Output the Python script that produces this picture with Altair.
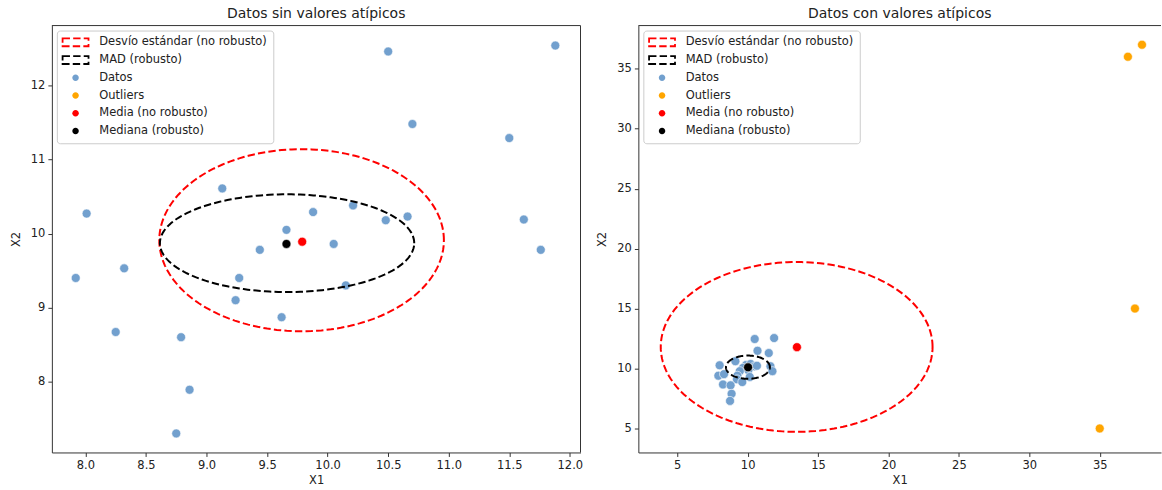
import altair as alt
import pandas as pd
import numpy as np

# ---------------- data ----------------
x1_datos = [10.50, 11.88, 10.70, 11.50, 9.13, 8.01, 9.88, 10.21, 10.48, 10.66,
            11.62, 9.66, 10.05, 9.44, 11.76, 7.92, 8.32, 9.27, 10.15, 9.24,
            9.62, 8.25, 8.79, 8.86, 8.75]
x2_datos = [12.46, 12.54, 11.48, 11.29, 10.61, 10.27, 10.29, 10.38, 10.18, 10.23,
            10.19, 10.05, 9.86, 9.78, 9.78, 9.40, 9.53, 9.40, 9.30, 9.10,
            8.87, 8.67, 8.60, 7.89, 7.30]
x1_outliers = [37.0, 38.0, 37.5, 35.0]
x2_outliers = [36.0, 37.0, 15.0, 5.0]

media_sin = [9.79, 9.89]
mediana_sin = [9.66, 9.86]
media_con = [13.50, 11.78]
mediana_con = [10.03, 10.10]

# ellipses: centre x, centre y, half-width, half-height
elipse_sd_sin = [9.785, 9.91, 1.175, 1.23]
elipse_mad_sin = [9.665, 9.87, 1.05, 0.66]
elipse_sd_con = [13.48, 11.80, 9.65, 7.08]
elipse_mad_con = [10.02, 10.11, 1.56, 0.97]

series = ["Desvío estándar (no robusto)", "MAD (robusto)", "Datos", "Outliers",
          "Media (no robusto)", "Mediana (robusto)"]
series_colors = ["#ff0000", "#000000", "#72a0ce", "#ffa500", "#ff0000", "#000000"]

ticks_x_sin = [8.0, 8.5, 9.0, 9.5, 10.0, 10.5, 11.0, 11.5, 12.0]
ticks_y_sin = [8, 9, 10, 11, 12]
ticks_x_con = [5, 10, 15, 20, 25, 30, 35]
ticks_y_con = [5, 10, 15, 20, 25, 30, 35]

# ---------------- legend symbol paths ----------------
CIRCLE = "M-1,0A1,1,0,1,1,1,0A1,1,0,1,1,-1,0Z"


def dashed_rect_path(hw=13.0, hh=4.0, t=1.8, dash=7.4, gap=3.2, s=3.25):
    edges = [((-hw, -hh), (hw, -hh)), ((hw, -hh), (hw, hh)),
             ((hw, hh), (-hw, hh)), ((-hw, hh), (-hw, -hh))]
    total = 4 * hw + 4 * hh
    dashes = []
    p = 0.0
    while p < total:
        dashes.append((p, min(p + dash, total)))
        p += dash + gap
    parts = []
    start = 0.0
    for (a, b) in edges:
        length = abs(b[0] - a[0]) + abs(b[1] - a[1])
        for d0, d1 in dashes:
            lo, hi = max(d0, start), min(d1, start + length)
            if hi <= lo:
                continue
            f0, f1 = (lo - start) / length, (hi - start) / length
            xa = a[0] + (b[0] - a[0]) * f0
            ya = a[1] + (b[1] - a[1]) * f0
            xb = a[0] + (b[0] - a[0]) * f1
            yb = a[1] + (b[1] - a[1]) * f1
            if ya == yb:
                x0, x1 = sorted([xa, xb])
                y0, y1 = ya - t / 2, ya + t / 2
                x0 -= t / 2 if abs(x0 + hw) < 1e-9 else 0
                x1 += t / 2 if abs(x1 - hw) < 1e-9 else 0
            else:
                y0, y1 = sorted([ya, yb])
                x0, x1 = xa - t / 2, xa + t / 2
            parts.append("M%.3f,%.3fH%.3fV%.3fH%.3fZ" % (x0 / s, y0 / s, x1 / s, y1 / s, x0 / s))
        start += length
    return "".join(parts)


RECT = dashed_rect_path()
series_shapes = [RECT, RECT, CIRCLE, CIRCLE, CIRCLE, CIRCLE]


def ellipse_df(params, name):
    cx, cy, rx, ry = params
    t = np.linspace(0, 2 * np.pi, 181)
    return pd.DataFrame({"x": cx + rx * np.cos(t), "y": cy + ry * np.sin(t),
                         "i": np.arange(len(t)), "serie": name})


def points_df(with_outliers, media, mediana):
    rows = [{"x": a, "y": b, "serie": "Datos"} for a, b in zip(x1_datos, x2_datos)]
    if with_outliers:
        rows += [{"x": a, "y": b, "serie": "Outliers"} for a, b in zip(x1_outliers, x2_outliers)]
    rows.append({"x": media[0], "y": media[1], "serie": "Media (no robusto)"})
    rows.append({"x": mediana[0], "y": mediana[1], "serie": "Mediana (robusto)"})
    return pd.DataFrame(rows)


AX = "#333333"
TXT = "#222222"
FS = 11.5


def panel(title, pts, ells, xdom, ydom, xticks, yticks, xfmt, W, H, right_line):
    color_scale = alt.Scale(domain=series, range=series_colors)
    shape_scale = alt.Scale(domain=series, range=series_shapes)
    legend = alt.Legend(title=None, orient="top-left", offset=5, padding=6,
                        symbolSize=42.25, symbolOffset=7, labelOffset=18,
                        rowPadding=4.8, labelFontSize=FS, labelColor=TXT,
                        fillColor="rgba(255,255,255,0.8)", strokeColor="#cccccc",
                        cornerRadius=3, symbolStrokeWidth=0, labelLimit=400)
    xenc = alt.X("x:Q", title="X1",
                 scale=alt.Scale(domain=xdom, nice=False, zero=False),
                 axis=alt.Axis(values=xticks, format=xfmt, titlePadding=4))
    yenc = alt.Y("y:Q", title="X2",
                 scale=alt.Scale(domain=ydom, nice=False, zero=False),
                 axis=alt.Axis(values=yticks, format="d", titlePadding=9))

    points = alt.Chart(pts).mark_point(filled=True, size=81, stroke="white",
                                       strokeWidth=0.6, opacity=1).encode(
        x=xenc, y=yenc,
        color=alt.Color("serie:N", scale=color_scale, legend=legend),
        shape=alt.Shape("serie:N", scale=shape_scale, legend=legend),
    )
    lines = alt.Chart(ells).mark_line(strokeWidth=2, strokeDash=[7.4, 3.2]).encode(
        x=alt.X("x:Q"), y=alt.Y("y:Q"), order="i:Q",
        color=alt.Color("serie:N", scale=color_scale, legend=None),
    )
    frame = alt.Chart(alt.Data(values=[{"k": 1}])).mark_rule(color=AX, strokeWidth=1).encode(
        x=alt.value(0), x2=alt.value(W), y=alt.value(0))
    layers = [points, lines, frame]
    if right_line:
        layers.append(alt.Chart(alt.Data(values=[{"k": 1}])).mark_rule(color=AX, strokeWidth=1).encode(
            x=alt.value(W), y=alt.value(0), y2=alt.value(H)))
    return alt.layer(*layers).properties(
        width=W, height=H,
        title=alt.Title(title, anchor="middle", frame="group"),
    )


ells_sin = pd.concat([ellipse_df(elipse_sd_sin, series[0]), ellipse_df(elipse_mad_sin, series[1])])
ells_con = pd.concat([ellipse_df(elipse_sd_con, series[0]), ellipse_df(elipse_mad_con, series[1])])

left = panel("Datos sin valores atípicos", points_df(False, media_sin, mediana_sin), ells_sin,
             [7.723, 12.088], [7.043, 12.81], ticks_x_sin, ticks_y_sin, ".1f", 530, 428, True)
right = panel("Datos con valores atípicos", points_df(True, media_con, mediana_con), ells_con,
              [2.24, 39.35], [3.0, 38.6], ticks_x_con, ticks_y_con, "d", 524, 428, False)

chart = alt.hconcat(left, right, spacing=13).resolve_scale(
    color="independent", shape="independent"
).resolve_legend(
    color="independent", shape="independent"
).properties(
    padding={"left": 10, "top": 6, "right": 0, "bottom": 0}
).configure(font="DejaVu Sans").configure_view(stroke=None).configure_axis(
    labelFontSize=FS, titleFontSize=FS, labelColor=TXT, titleColor=TXT,
    domainColor=AX, tickColor=AX, tickSize=4, labelPadding=3, grid=False,
    titleFontWeight="normal", domainWidth=1, tickWidth=1,
).configure_title(fontSize=14, fontWeight="normal", color=TXT, offset=4)

chart.save("out.html", embed_options={"renderer": "svg", "actions": False})
